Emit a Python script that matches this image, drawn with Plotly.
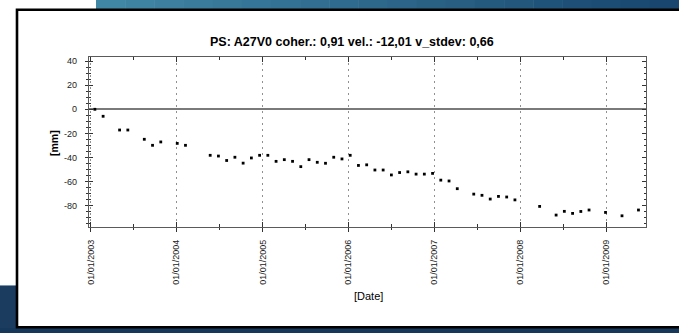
import plotly.graph_objects as go

# ---- data ----
dates = [
    "2003-01-19", "2003-02-23", "2003-05-04", "2003-06-08", "2003-08-17", "2003-09-21",
    "2003-10-26", "2004-01-04", "2004-02-08", "2004-05-23", "2004-06-27", "2004-08-01",
    "2004-09-05", "2004-10-10", "2004-11-14", "2004-12-19", "2005-01-23", "2005-02-27",
    "2005-04-03", "2005-05-08", "2005-06-12", "2005-07-17", "2005-08-21", "2005-09-25",
    "2005-10-30", "2005-12-04", "2006-01-08", "2006-02-12", "2006-03-19", "2006-04-23",
    "2006-05-28", "2006-07-02", "2006-08-06", "2006-09-10", "2006-10-15", "2006-11-19",
    "2006-12-24", "2007-01-28", "2007-03-04", "2007-04-08", "2007-06-17", "2007-07-22",
    "2007-08-26", "2007-09-30", "2007-11-04", "2007-12-09", "2008-03-23", "2008-06-01",
    "2008-07-06", "2008-08-10", "2008-09-14", "2008-10-19", "2008-12-28", "2009-03-08",
    "2009-05-17",
]
displacement_mm = [
    0.0, -5.8, -17.2, -17.2, -24.9, -29.9,
    -27.1, -28.3, -29.9, -38.2, -38.8, -42.5,
    -39.8, -44.7, -40.4, -38.2, -38.2, -43.2,
    -41.8, -43.2, -47.6, -41.8, -44.0, -44.8,
    -39.8, -41.2, -38.2, -46.6, -46.1, -50.4,
    -50.4, -54.5, -52.5, -51.9, -53.8, -53.8,
    -53.2, -58.8, -59.5, -65.9, -70.4, -71.4,
    -74.5, -72.3, -72.8, -75.2, -80.6, -87.8,
    -84.7, -86.4, -84.8, -83.6, -85.6, -88.4,
    -83.6,
]
x_tick_vals = ["2003-01-01", "2004-01-01", "2005-01-01", "2006-01-01",
               "2007-01-01", "2008-01-01", "2009-01-01"]
x_tick_text = ["01/01/2003", "01/01/2004", "01/01/2005", "01/01/2006",
               "01/01/2007", "01/01/2008", "01/01/2009"]
x_minor_vals = ["2003-07-01", "2004-07-01", "2005-07-01",
                "2006-07-01", "2007-07-01", "2008-07-01"]
y_tick_vals = [-80, -60, -40, -20, 0, 20, 40]
y_tick_text = ["-80", "-60", "-40", "-20", "0", "20", "40"]

title_text = "PS: A27V0 coher.: 0,91 vel.: -12,01 v_stdev: 0,66"
x_title = "[Date]"
y_title = "[mm]"

x_range = ["2002-12-25", "2009-06-18"]
y_range = [-97.7, 43.4]

# ---- geometry ----
W, H = 679, 333
L, R, T, B = 89, 33, 57, 106
PW, PH = W - L - R, H - T - B


def px(x):
    return (x - L) / PW


def py(y):
    return 1 - (y - T) / PH


FONT = "Liberation Sans, Arial, sans-serif"

fig = go.Figure()
fig.add_trace(go.Scatter(
    x=dates, y=displacement_mm, mode="markers",
    marker=dict(symbol="square", size=2.8, color="black", line=dict(width=0)),
    showlegend=False, hoverinfo="x+y",
))
# invisible copy to register the overlay axes (inside ticks / mirrored frame)
fig.add_trace(go.Scatter(
    x=dates, y=displacement_mm, mode="markers", xaxis="x2", yaxis="y2",
    marker=dict(size=1, opacity=0), showlegend=False, hoverinfo="skip",
))

shapes = []
# top gradient strip
c0 = (64, 134, 165)
c1 = (24, 70, 110)
n = 20
x_start, x_end = 96, 679
for i in range(n):
    t = i / (n - 1)
    col = tuple(int(round(c0[k] + (c1[k] - c0[k]) * t)) for k in range(3))
    xa = x_start + (x_end - x_start) * i / n
    xb = x_start + (x_end - x_start) * (i + 1) / n + 0.5
    shapes.append(dict(type="rect", xref="paper", yref="paper", layer="below",
                       x0=px(xa), x1=px(xb), y0=py(0), y1=py(9),
                       fillcolor="rgb(%d,%d,%d)" % col, line=dict(width=0)))
# left dark block
shapes.append(dict(type="rect", xref="paper", yref="paper", layer="below",
                   x0=px(0), x1=px(17), y0=py(285), y1=py(333),
                   fillcolor="rgb(28,60,95)", line=dict(width=0)))
shapes.append(dict(type="line", xref="paper", yref="paper", layer="below",
                   x0=px(0), x1=px(17), y0=py(285.5), y1=py(285.5),
                   line=dict(color="rgb(120,150,180)", width=1)))
# bottom dark strip
shapes.append(dict(type="rect", xref="paper", yref="paper", layer="below",
                   x0=px(0), x1=px(679), y0=py(328), y1=py(333),
                   fillcolor="rgb(22,56,90)", line=dict(width=0)))
# white panel with black border
shapes.append(dict(type="rect", xref="paper", yref="paper", layer="below",
                   x0=px(17), x1=px(700), y0=py(9.8), y1=py(327.3),
                   fillcolor="white", line=dict(color="black", width=2.6)))

annotations = [
    dict(text="<b>%s</b>" % title_text, xref="paper", yref="paper",
         x=px(352), y=py(42), xanchor="center", yanchor="middle", showarrow=False,
         font=dict(family=FONT, size=12.5, color="black")),
    dict(text="<b>%s</b>" % y_title, xref="paper", yref="paper",
         x=px(54), y=py(143), xanchor="center", yanchor="middle", showarrow=False,
         textangle=-90, font=dict(family=FONT, size=10.5, color="black")),
    dict(text=x_title, xref="paper", yref="paper",
         x=px(368), y=py(296), xanchor="center", yanchor="middle", showarrow=False,
         font=dict(family=FONT, size=11, color="black")),
]

tickfont = dict(family=FONT, size=9, color="#222")
LINE = "#5a5a5a"
TICK = "#333"

fig.update_layout(
    width=W, height=H,
    margin=dict(l=L, r=R, t=T, b=B, pad=0),
    paper_bgcolor="white", plot_bgcolor="white",
    shapes=shapes, annotations=annotations, showlegend=False,
    xaxis=dict(
        type="date", range=x_range, tickmode="array", tickvals=x_tick_vals,
        ticktext=x_tick_text, tickangle=-90, tickfont=tickfont,
        ticks="outside", ticklen=4, tickwidth=1, tickcolor=TICK,
        ticklabelstandoff=4,
        minor=dict(tickmode="array", tickvals=x_minor_vals,
                   ticks="outside", ticklen=2, tickcolor=TICK, showgrid=False),
        showgrid=True, gridcolor="#909090", griddash="2px,4px", gridwidth=1,
        showline=True, linecolor=LINE, linewidth=1.2, mirror=False,
        zeroline=False, fixedrange=True,
    ),
    xaxis2=dict(
        type="date", range=x_range, overlaying="x", anchor="y2", side="bottom",
        tickmode="array", tickvals=x_tick_vals, showticklabels=False,
        ticks="inside", ticklen=5, tickwidth=1, tickcolor=TICK,
        minor=dict(tickmode="array", tickvals=x_minor_vals,
                   ticks="inside", ticklen=3, tickcolor=TICK, showgrid=False),
        showgrid=False, showline=True, linecolor=LINE, linewidth=1.2, mirror="ticks",
        zeroline=False, fixedrange=True,
    ),
    yaxis=dict(
        range=y_range, tickmode="array", tickvals=y_tick_vals, ticktext=y_tick_text,
        tickfont=tickfont, ticks="outside", ticklen=3, tickwidth=1, tickcolor=TICK,
        ticklabelstandoff=6,
        minor=dict(tickmode="linear", tick0=0, dtick=5, ticks="outside", ticklen=2,
                   tickcolor=TICK, showgrid=False),
        showgrid=False, zeroline=True, zerolinecolor="#7a7a7a", zerolinewidth=1.6,
        showline=True, linecolor=LINE, linewidth=1.2, mirror=False, fixedrange=True,
    ),
    yaxis2=dict(
        range=y_range, overlaying="y", anchor="x2", side="left",
        tickmode="array", tickvals=y_tick_vals, showticklabels=False,
        ticks="inside", ticklen=4, tickwidth=1, tickcolor=TICK,
        minor=dict(tickmode="linear", tick0=0, dtick=5, ticks="inside", ticklen=2,
                   tickcolor=TICK, showgrid=False),
        showgrid=False, zeroline=False, showline=True, linecolor=LINE, linewidth=1.2,
        mirror="ticks", fixedrange=True,
    ),
)

fig.write_html(
    "out.html",
    config={"displayModeBar": False},
    post_script="document.body.style.margin='0';document.body.style.overflow='hidden';",
)
